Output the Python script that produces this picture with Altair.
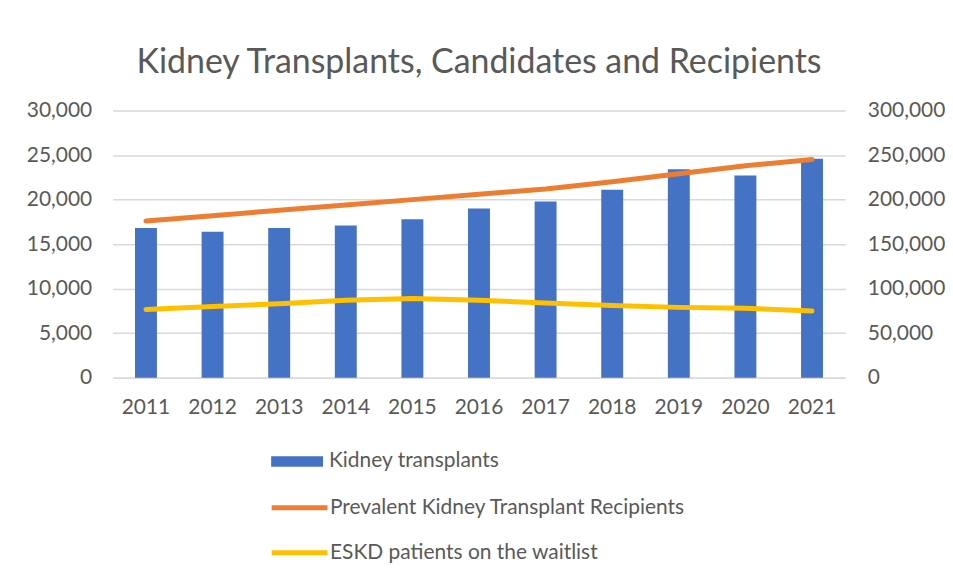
import altair as alt
import pandas as pd

years = ["2011", "2012", "2013", "2014", "2015", "2016", "2017", "2018", "2019", "2020", "2021"]
transplants = [16800, 16400, 16800, 17100, 17800, 19000, 19800, 21100, 23400, 22700, 24600]
recipients = [176000, 182000, 188000, 194000, 200000, 206000, 212000, 220000, 229000, 238000, 245000]
waitlist = [76600, 80000, 83000, 87000, 89000, 87000, 84000, 81000, 79000, 78000, 75000]

bar_name = "Kidney transplants"
line_names = ["Prevalent Kidney Transplant Recipients", "ESKD patients on the waitlist"]

FONT = "Lato"
GRAY = "#595959"

bars_df = pd.DataFrame({"year": years, "value": transplants, "series": bar_name})
lines_df = pd.DataFrame({
    "year": years * 2,
    "value": recipients + waitlist,
    "series": [line_names[0]] * len(years) + [line_names[1]] * len(years),
})

x_enc = alt.X("year:O", title=None, sort=years,
              scale=alt.Scale(paddingInner=0, paddingOuter=0),
              axis=alt.Axis(labelAngle=0, ticks=False, domainColor="#d9d9d9", domainWidth=1.5,
                            labelPadding=19, labelFontSize=21, labelColor=GRAY, labelFont=FONT))

bars = alt.Chart(bars_df).mark_bar(size=22).encode(
    x=x_enc,
    y=alt.Y("value:Q", title=None,
            scale=alt.Scale(domain=[0, 30000]),
            axis=alt.Axis(orient="left", values=[0, 5000, 10000, 15000, 20000, 25000, 30000],
                          format=",.0f", ticks=False, domain=False, labelPadding=21,
                          minExtent=100, maxExtent=100,
                          gridColor="#d9d9d9", gridWidth=1.5,
                          labelFontSize=21, labelColor=GRAY, labelFont=FONT)),
    fill=alt.Fill("series:N", title=None,
                  scale=alt.Scale(domain=[bar_name], range=["#4472C4"]),
                  legend=alt.Legend(orient="none", legendX=159, legendY=326, padding=0,
                                    symbolType="M-1,-0.2H1V0.2H-1Z", symbolSize=2704,
                                    symbolStrokeWidth=0, labelOffset=6, labelLimit=600,
                                    labelFontSize=21, labelColor=GRAY, labelFont=FONT)),
)

lines = alt.Chart(lines_df).mark_line(strokeWidth=5, strokeCap="round", strokeJoin="round").encode(
    x=alt.X("year:O", sort=years),
    y=alt.Y("value:Q", title=None,
            scale=alt.Scale(domain=[0, 300000]),
            axis=alt.Axis(orient="right", values=[0, 50000, 100000, 150000, 200000, 250000, 300000],
                          format=",.0f", ticks=False, domain=False, grid=False, labelPadding=22,
                          labelFontSize=21, labelColor=GRAY, labelFont=FONT)),
    stroke=alt.Stroke("series:N", title=None, sort=line_names,
                      scale=alt.Scale(domain=line_names, range=["#ED7D31", "#FFC000"]),
                      legend=alt.Legend(orient="none", legendX=157, legendY=368, padding=0,
                                        symbolType="stroke", symbolSize=3136, symbolStrokeWidth=5,
                                        rowPadding=4, labelOffset=0, labelLimit=600,
                                        labelFontSize=21, labelColor=GRAY, labelFont=FONT)),
    detail="series:N",
)

chart = alt.layer(bars, lines).resolve_scale(
    y="independent", fill="independent", stroke="independent"
).properties(
    width=735, height=268,
    background="white",
    padding={"top": 37, "left": 5, "right": 0, "bottom": 5},
    title=alt.TitleParams("Kidney Transplants, Candidates and Recipients",
                          fontSize=34, font=FONT, fontWeight="normal", color=GRAY,
                          anchor="middle", offset=20),
).configure_view(stroke=None)

chart.save("out.html", embed_options={"renderer": "svg", "actions": False})
